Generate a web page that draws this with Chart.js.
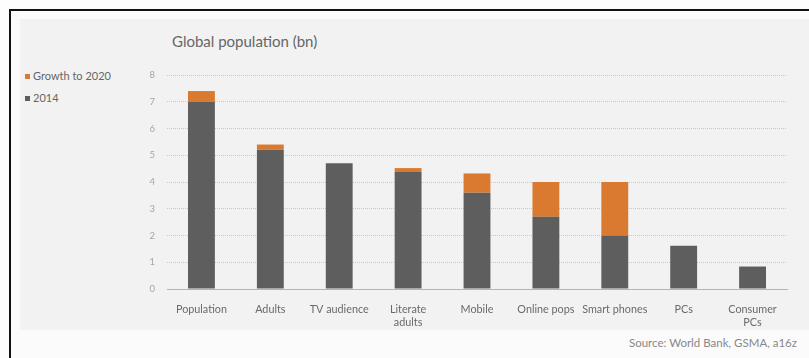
<!DOCTYPE html>
<html>
<head>
<meta charset="utf-8">
<script src="https://cdn.jsdelivr.net/npm/chart.js@4.4.1/dist/chart.umd.min.js"></script>
<style>
  html, body { margin: 0; padding: 0; background: #fdfdfd; overflow: hidden; }
  body { width: 809px; height: 358px; position: relative; font-family: Lato, "Open Sans", sans-serif; }
  #frame { position: absolute; left: 9px; top: 9px; width: 798px; height: 347px; border-top: 2px solid #111; border-left: 2px solid #111; background: #fbfbfb; }
  #panel { position: absolute; left: 20px; top: 19px; width: 789px; height: 311px; background: #f2f2f2; }
  #title { position: absolute; left: 172px; top: 32px; font-size: 15px; color: #666; }
  .leg { position: absolute; left: 25px; font-size: 11px; color: #666; }
  .sw { display: inline-block; width: 5px; height: 5px; margin-right: 3px; vertical-align: 1px; }
  #source { position: absolute; right: 12px; top: 336px; font-size: 11.5px; color: #888; }
  canvas { position: absolute; left: 0; top: 0; }
</style>
</head>
<body>
<div id="frame"></div>
<div id="panel"></div>
<div id="title">Global population (bn)</div>
<div class="leg" style="top:69px"><span class="sw" style="background:#d97a30"></span>Growth to 2020</div>
<div class="leg" style="top:91px"><span class="sw" style="background:#5e5e5e"></span>2014</div>
<div id="source">Source: World Bank, GSMA, a16z</div>
<canvas id="c" width="809" height="358"></canvas>
<script>
const categories = ['Population', 'Adults', 'TV audience', ['Literate', 'adults'], 'Mobile', 'Online pops', 'Smart phones', 'PCs', ['Consumer', 'PCs']];
const values2014 = [7.0, 5.2, 4.7, 4.37, 3.6, 2.7, 2.0, 1.62, 0.84];
const growthTo2020 = [0.4, 0.2, 0, 0.15, 0.72, 1.3, 2.0, 0, 0];
const yTicks = [0, 1, 2, 3, 4, 5, 6, 7, 8];

new Chart(document.getElementById('c'), {
  type: 'bar',
  data: {
    labels: categories,
    datasets: [
      { label: '2014', data: values2014, backgroundColor: '#5e5e5e', barPercentage: 0.39, categoryPercentage: 1 },
      { label: 'Growth to 2020', data: growthTo2020, backgroundColor: '#d97a30', barPercentage: 0.39, categoryPercentage: 1 }
    ]
  },
  options: {
    responsive: false,
    animation: false,
    devicePixelRatio: 1,
    layout: { padding: { left: 137, right: 22, top: 75, bottom: 24 } },
    plugins: { legend: { display: false }, tooltip: { enabled: false } },
    scales: {
      x: {
        stacked: true,
        grid: { display: false },
        border: { display: true, color: '#b5b5b5', width: 1 },
        ticks: { color: '#6a6a6a', font: { family: 'Lato', size: 10.8 }, padding: 6, maxRotation: 0, autoSkip: false },
        afterFit: s => { s.height = 45; }
      },
      y: {
        stacked: true,
        min: 0, max: 8,
        afterBuildTicks: s => { s.ticks = yTicks.map(v => ({ value: v })); },
        grid: { color: '#c8c8c8', drawTicks: false, lineWidth: 1 },
        border: { display: false, dash: [1, 1] },
        ticks: { color: '#a5a5a5', font: { family: 'Lato', size: 9.5 }, padding: 12 },
        afterFit: s => { s.width = 30; }
      }
    }
  }
});
</script>
</body>
</html>
